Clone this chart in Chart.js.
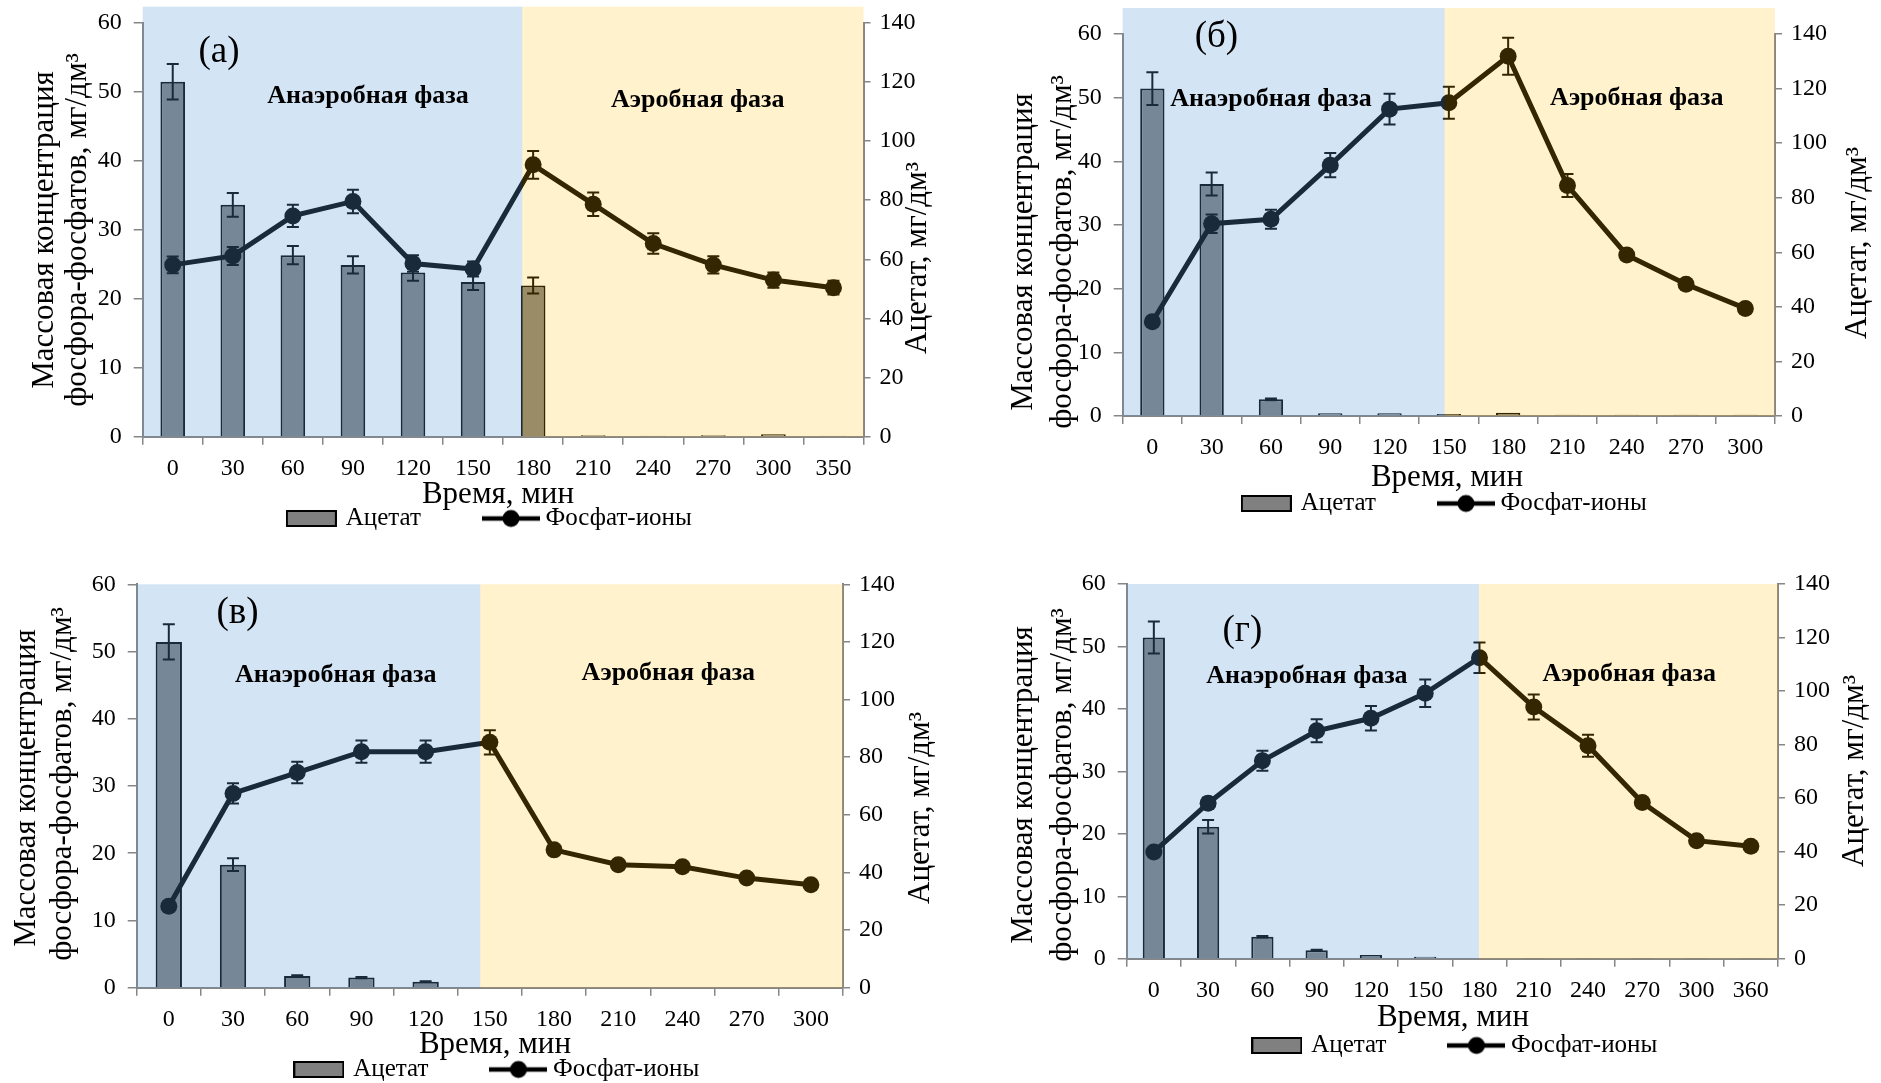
<!DOCTYPE html>
<html lang="ru">
<head>
<meta charset="UTF-8">
<title>Ацетат и фосфат-ионы</title>
<script src="https://cdn.jsdelivr.net/npm/chart.js@4.4.0/dist/chart.umd.min.js"></script>
<style>
  html, body { margin: 0; padding: 0; background: #fff; overflow: hidden; }
  body { width: 1881px; height: 1083px; position: relative; }
  canvas { position: absolute; }
</style>
</head>
<body>
<canvas id="chartA"></canvas>
<canvas id="chartB"></canvas>
<canvas id="chartC"></canvas>
<canvas id="chartD"></canvas>
<script>
// ---- data (время, мин; ацетат – правая ось, фосфат – левая ось) ----
const timesA = ['0', '30', '60', '90', '120', '150', '180', '210', '240', '270', '300', '350'];
const acetateA = [120, 78.4, 61.4, 58.1, 55.5, 52.3, 51.1, 0.5, 0.35, 0.5, 0.8, 0.35];
const acetateErrA = [6.0, 4.0, 3.1, 2.9, 2.8, 2.7, 2.7, 0, 0, 0, 0, 0];
const phosphateA = [24.9, 26.2, 32.0, 34.1, 25.1, 24.3, 39.4, 33.7, 28.0, 24.9, 22.7, 21.6];
const phosphateErrA = [1.2, 1.3, 1.6, 1.7, 1.2, 1.1, 2.0, 1.7, 1.5, 1.25, 1.1, 1.0];

const timesB = ['0', '30', '60', '90', '120', '150', '180', '210', '240', '270', '300'];
const acetateB = [120, 85, 6.1, 1.0, 1.0, 0.7, 1.2, 0.5, 0.5, 0.5, 0.5];
const acetateErrB = [6.0, 4.2, 0.3, 0, 0, 0, 0, 0, 0, 0, 0];
const phosphateB = [14.8, 30.2, 30.9, 39.4, 48.2, 49.2, 56.5, 36.2, 25.3, 20.7, 16.9];
const phosphateErrB = [0.8, 1.45, 1.5, 1.9, 2.4, 2.5, 2.9, 1.8, 0.8, 0.5, 0.4];

const timesC = ['0', '30', '60', '90', '120', '150', '180', '210', '240', '270', '300'];
const acetateC = [120, 42.7, 4.1, 3.5, 2.1, 0.2, 0.2, 0.2, 0.2, 0.2, 0.2];
const acetateErrC = [6.1, 2.2, 0.2, 0.2, 0.1, 0, 0, 0, 0, 0, 0];
const phosphateC = [12.1, 28.9, 32.0, 35.1, 35.1, 36.5, 20.5, 18.3, 18.0, 16.3, 15.3];
const phosphateErrC = [0, 1.5, 1.6, 1.65, 1.65, 1.8, 0, 0, 0, 0, 0];

const timesD = ['0', '30', '60', '90', '120', '150', '180', '210', '240', '270', '300', '360'];
const acetateD = [120, 49.3, 8.2, 3.2, 1.4, 0.75, 0.25, 0.15, 0.15, 0.15, 0.15, 0.15];
const acetateErrD = [6.0, 2.5, 0.3, 0.1, 0, 0, 0, 0, 0, 0, 0, 0];
const phosphateD = [17.1, 24.9, 31.7, 36.5, 38.5, 42.5, 48.2, 40.3, 34.1, 25.0, 18.9, 18.0];
const phosphateErrD = [0, 0.9, 1.6, 1.85, 1.95, 2.2, 2.45, 2.0, 1.75, 0.5, 0, 0];

const FONT = "'Liberation Serif', 'Times New Roman', serif";
Chart.defaults.font.family = FONT;
Chart.defaults.color = '#000';

// page geometry of each panel
const panels = [
  { id: 'chartA', times: timesA, acetate: acetateA, acetateErr: acetateErrA, phosphate: phosphateA, phosphateErr: phosphateErrA,
    tag: '(а)', box: { x: 0, y: 0, w: 940 }, area: { left: 142.7, right: 863.5, top: 22.7, bottom: 436.7 },
    legend: [490.5, 518], split: 5.82, bandRise: 16,
    tagAt: [0.77, 55.7], anaAt: [3.25, 49.4], aerAt: [8.74, 48.8],
    leftTitle: [[45, 230], [78, 230]], rightTitle: [918, 258], xTitle: [498, 495] },
  { id: 'chartB', times: timesB, acetate: acetateB, acetateErr: acetateErrB, phosphate: phosphateB, phosphateErr: phosphateErrB,
    tag: '(б)', box: { x: 940, y: 0, w: 941 }, area: { left: 1122.7, right: 1775, top: 34, bottom: 416 },
    legend: [1445.5, 503], split: 4.93, bandRise: 26,
    tagAt: [1.08, 59.5], anaAt: [2.0, 49.8], aerAt: [8.17, 49.9],
    leftTitle: [[1024, 252], [1063, 252]], rightTitle: [1858, 243], xTitle: [1447, 478] },
  { id: 'chartC', times: timesC, acetate: acetateC, acetateErr: acetateErrC, phosphate: phosphateC, phosphateErr: phosphateErrC,
    tag: '(в)', box: { x: 0, y: 540, w: 940 }, area: { left: 136.7, right: 843, top: 584.3, bottom: 987.7 },
    legend: [498, 1069], split: 4.85, bandRise: 0,
    tagAt: [1.07, 55.7], anaAt: [2.6, 46.5], aerAt: [7.78, 46.8],
    leftTitle: [[27, 788], [63, 784]], rightTitle: [921, 808], xTitle: [495, 1045] },
  { id: 'chartD', times: timesD, acetate: acetateD, acetateErr: acetateErrD, phosphate: phosphateD, phosphateErr: phosphateErrD,
    tag: '(г)', box: { x: 940, y: 540, w: 941 }, area: { left: 1126.7, right: 1778, top: 584, bottom: 958.7 },
    legend: [1456, 1045], split: 5.99, bandRise: 0,
    tagAt: [1.63, 52.5], anaAt: [2.82, 45.2], aerAt: [8.76, 45.6],
    leftTitle: [[1024, 785], [1063, 785]], rightTitle: [1855, 771], xTitle: [1453, 1018] }
];

// legend icons
const barIcon = document.createElement('canvas');
barIcon.width = 51; barIcon.height = 17;
let ic = barIcon.getContext('2d');
ic.fillStyle = '#808080'; ic.fillRect(1, 1, 49, 15);
ic.strokeStyle = '#000'; ic.lineWidth = 2; ic.strokeRect(1, 1, 49, 15);

const lineIcon = document.createElement('canvas');
lineIcon.width = 58; lineIcon.height = 20;
ic = lineIcon.getContext('2d');
ic.strokeStyle = '#000'; ic.lineWidth = 4.5;
ic.beginPath(); ic.moveTo(0, 10); ic.lineTo(58, 10); ic.stroke();
ic.fillStyle = '#000'; ic.beginPath(); ic.arc(29, 10, 8.5, 0, Math.PI * 2); ic.fill();

function phasePlugin(P) {
  return {
    id: 'phases',
    afterDatasetsDraw(chart) {
      const { ctx, chartArea: a, scales } = chart;
      ctx.save();
      // error bars
      ctx.strokeStyle = '#000';
      ctx.lineWidth = 2;
      chart.data.datasets.forEach((ds, i) => {
        const sc = scales[ds.yAxisID];
        chart.getDatasetMeta(i).data.forEach((el, j) => {
          const e = ds.errors[j];
          if (!e) return;
          const hi = sc.getPixelForValue(ds.data[j] + e);
          const lo = sc.getPixelForValue(ds.data[j] - e);
          ctx.beginPath();
          ctx.moveTo(el.x, hi); ctx.lineTo(el.x, lo);
          ctx.moveTo(el.x - 6, hi); ctx.lineTo(el.x + 6, hi);
          ctx.moveTo(el.x - 6, lo); ctx.lineTo(el.x + 6, lo);
          ctx.stroke();
        });
      });
      // translucent phase bands laid over the plot
      const xs = scales.x.getPixelForValue(P.split);
      const top = a.top - P.bandRise;
      ctx.fillStyle = 'rgba(91,155,213,0.27)';
      ctx.fillRect(a.left, top, xs - a.left, a.bottom - top);
      ctx.fillStyle = 'rgba(255,192,0,0.2)';
      ctx.fillRect(xs, top, a.right - xs, a.bottom - top);
      ctx.restore();
    },
    afterDraw(chart) {
      const { ctx, scales: { x, y } } = chart;
      const ox = P.box.x, oy = P.box.y;
      ctx.save();
      ctx.fillStyle = '#000';
      ctx.textAlign = 'center';
      ctx.textBaseline = 'middle';
      const put = (txt, font, at) => {
        ctx.font = font;
        ctx.fillText(txt, x.getPixelForValue(at[0]), y.getPixelForValue(at[1]));
      };
      put(P.tag, `37px ${FONT}`, P.tagAt);
      put('Анаэробная фаза', `bold 26px ${FONT}`, P.anaAt);
      put('Аэробная фаза', `bold 26px ${FONT}`, P.aerAt);

      ctx.font = `31px ${FONT}`;
      ctx.fillText('Время, мин', P.xTitle[0] - ox, P.xTitle[1] - oy);
      const rot = (txt, pos) => {
        ctx.save();
        ctx.translate(pos[0] - ox, pos[1] - oy);
        ctx.rotate(-Math.PI / 2);
        ctx.fillText(txt, 0, 0);
        ctx.restore();
      };
      rot('Массовая концентрация', P.leftTitle[0]);
      rot('фосфора-фосфатов, мг/дм³', P.leftTitle[1]);
      rot('Ацетат, мг/дм³', P.rightTitle);
      ctx.restore();
    }
  };
}

function makeChart(P) {
  const cv = document.getElementById(P.id);
  const ch = Math.round(P.legend[1] + 22.5 - P.box.y);
  cv.width = P.box.w;
  cv.height = ch;
  cv.style.left = P.box.x + 'px';
  cv.style.top = P.box.y + 'px';

  const hw = Math.min(P.legend[0] - P.box.x, P.box.x + P.box.w - P.legend[0]);
  const padL = P.legend[0] - hw - P.box.x;
  const padR = P.box.x + P.box.w - (P.legend[0] + hw);
  const padT = P.area.top - P.box.y;

  const axisGrey = '#868686';
  const tickFont = { family: FONT, size: 24 };

  return new Chart(cv, {
    data: {
      labels: P.times,
      datasets: [
        {
          type: 'line', label: 'Фосфат-ионы', data: P.phosphate, errors: P.phosphateErr, yAxisID: 'y',
          borderColor: '#000', backgroundColor: '#000', borderWidth: 5,
          pointRadius: 8.5, pointBorderWidth: 0, pointBackgroundColor: '#000', order: 0
        },
        {
          type: 'bar', label: 'Ацетат', data: P.acetate, errors: P.acetateErr, yAxisID: 'y1',
          backgroundColor: '#808080', borderColor: '#000', borderWidth: 2,
          categoryPercentage: 1, barPercentage: 0.41, order: 1
        }
      ]
    },
    options: {
      responsive: false,
      animation: false,
      devicePixelRatio: 1,
      layout: { autoPadding: false, padding: { left: padL, right: padR, top: padT, bottom: 0 } },
      plugins: {
        tooltip: { enabled: false },
        legend: {
          position: 'bottom',
          labels: {
            usePointStyle: true, pointStyleWidth: 44, padding: 18, color: '#000',
            font: { family: FONT, size: 25 },
            generateLabels: () => [
              // trailing em spaces widen the gap between the two legend entries
              { text: 'Ацетат\u2003\u2003', pointStyle: barIcon, fillStyle: '#808080', strokeStyle: '#000', lineWidth: 0, hidden: false, datasetIndex: 1 },
              { text: 'Фосфат-ионы', pointStyle: lineIcon, fillStyle: '#000', strokeStyle: '#000', lineWidth: 0, hidden: false, datasetIndex: 0 }
            ]
          }
        }
      },
      scales: {
        x: {
          type: 'category', offset: true,
          grid: { drawOnChartArea: false, offset: true, tickLength: 8, color: axisGrey, lineWidth: 1.5 },
          border: { color: axisGrey, width: 2 },
          ticks: { color: '#000', font: tickFont, padding: 9.6, autoSkip: false, maxRotation: 0 },
          afterFit: s => {
            s.height = s.chart.height - s.chart.legend.height - (P.area.bottom - P.box.y);
            s.paddingLeft = 0; s.paddingRight = 0;
          }
        },
        y: {
          position: 'left', min: 0, max: 60,
          ticks: { stepSize: 10, color: '#000', font: tickFont, padding: 12 },
          grid: { drawOnChartArea: false, tickLength: 9, color: axisGrey, lineWidth: 1.5 },
          border: { color: axisGrey, width: 2 },
          afterFit: s => {
            s.width = P.area.left - (P.box.x + padL);
            s.paddingTop = 0; s.paddingBottom = 0;
          }
        },
        y1: {
          position: 'right', min: 0, max: 140,
          ticks: { stepSize: 20, color: '#000', font: tickFont, padding: 9 },
          grid: { drawOnChartArea: false, tickLength: 7, color: axisGrey, lineWidth: 1.5 },
          border: { color: axisGrey, width: 2 },
          afterFit: s => {
            s.width = (P.box.x + P.box.w - padR) - P.area.right;
            s.paddingTop = 0; s.paddingBottom = 0;
          }
        }
      }
    },
    plugins: [phasePlugin(P)]
  });
}

panels.forEach(makeChart);
</script>
</body>
</html>
